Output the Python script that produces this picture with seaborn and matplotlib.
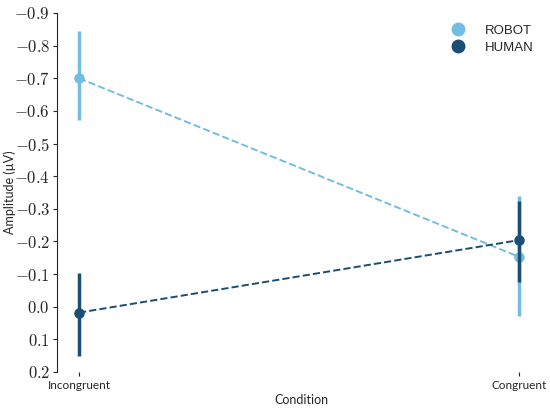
import pandas as pd
import numpy as np
import seaborn as sns
import matplotlib.pyplot as plt
from matplotlib.ticker import FuncFormatter
from matplotlib.lines import Line2D

# Valores (amplitude em µV)
condicoes = ['Incongruent', 'Congruent']
grupos = ['ROBOT', 'HUMAN']
media_robot = [-0.70, -0.153]
inf_robot = [-0.846, -0.338]
sup_robot = [-0.573, 0.028]
media_human = [0.018, -0.204]
inf_human = [-0.102, -0.325]
sup_human = [0.152, -0.076]
cores = ['#74bde2', '#1a4e72']

# Tabela longa: limite inferior, média e superior -> mediana = média, pi 100 = limites
linhas = []
for g, med, inf, sup in [('ROBOT', media_robot, inf_robot, sup_robot),
                         ('HUMAN', media_human, inf_human, sup_human)]:
    for i, c in enumerate(condicoes):
        for v in (inf[i], med[i], sup[i]):
            linhas.append({'Condition': c, 'grupo': g, 'amp': v})
df = pd.DataFrame(linhas)

sns.set_style('ticks')
plt.rcParams['mathtext.fontset'] = 'cm'
plt.rcParams['font.family'] = ['Lato', 'DejaVu Sans']

fig = plt.figure(figsize=(5.5, 4.09), dpi=100)
ax = fig.add_axes([57/550, 1 - 372/409, (545 - 57)/550, (372 - 13)/409])
sns.pointplot(data=df, x='Condition', y='amp', hue='grupo', hue_order=grupos,
              order=condicoes, palette=cores, estimator='median',
              errorbar=('pi', 100), linestyles='--', markersize=6.5,
              linewidth=1.4, err_kws={'linewidth': 2.5, 'solid_capstyle': 'butt'},
              ax=ax)

ax.set_ylim(0.2, -0.9)
ax.set_yticks(np.round(np.arange(-0.9, 0.21, 0.1), 1))
ax.yaxis.set_major_formatter(FuncFormatter(lambda v, p: '$%.1f$' % (v if abs(v) > 1e-9 else 0.0)))
ax.tick_params(axis='y', labelsize=12, length=3, pad=2)
ax.tick_params(axis='x', labelsize=8.5, length=3, pad=3)
ax.set_xlim(-0.05, 1.059)
ax.set_xlabel('Condition', fontsize=9, labelpad=2)
ax.set_ylabel('Amplitude (µV)', fontsize=9)
ax.yaxis.set_label_coords(-0.084, 0.5)

sns.despine(ax=ax, bottom=True)
ax.spines['left'].set_bounds(0.2, -0.9)

handles = [Line2D([], [], marker='o', linestyle='', markersize=9, color=c) for c in cores]
ax.legend(handles, grupos, frameon=False, prop={'family': 'Liberation Sans', 'size': 9.5},
          loc='upper right', bbox_to_anchor=(1.0, 1.0), handletextpad=1.0,
          labelspacing=0.35)

plt.savefig('out.png', dpi=100)
